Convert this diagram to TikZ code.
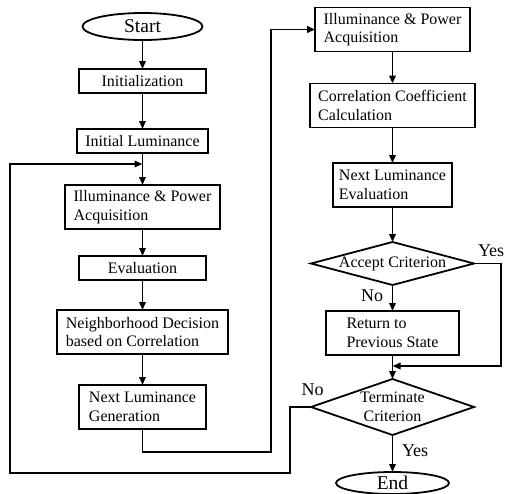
\documentclass[tikz,border=0pt]{standalone}
\usepackage{fontspec}
\setmainfont{Liberation Serif}
\usetikzlibrary{positioning,arrows.meta,calc,shapes.geometric}
\newcommand{\bodysize}{\fontsize{16}{18.5}\selectfont}
\tikzset{
  fig/.style={font=\bodysize,line width=1.8pt},
  box/.style={draw,line width=1.8pt,minimum height=24pt,minimum width=127pt,align=left,
              inner xsep=8.5pt,inner ysep=2pt,outer sep=0pt},
  tallbox/.style={box,minimum height=44pt},
  terminal/.style={draw,ellipse,line width=1.8pt,minimum height=27pt,inner sep=0pt,
                   outer sep=0pt,font=\fontsize{19.5}{22}\selectfont},
  decision/.style={draw,diamond,line width=1.8pt,inner sep=0pt,outer sep=0pt,align=center},
  ln/.style={-{Triangle[length=8pt,width=6.5pt]},line width=1.8pt},
  lbl/.style={font=\fontsize{18}{20}\selectfont,inner sep=1pt,outer sep=0pt},
}

\begin{document}
\begin{tikzpicture}[fig]
\useasboundingbox (0,0) rectangle (506pt,-493pt);

% left column
\node[terminal,minimum width=120pt] (start) at (142.5pt,-26.5pt) {Start};
\node[box,below=29pt of start] (init) {Initialization};
\node[box,below=36pt of init] (lum) {Initial Luminance};
\node[tallbox,below=32pt of lum] (acqL) {Illuminance \& Power\\Acquisition};
\node[box,below=27pt of acqL] (eval) {Evaluation};
\node[tallbox,below=30pt of eval] (nbr) {Neighborhood Decision\\based on Correlation};
\node[tallbox,below=31pt of nbr] (gen) {Next Luminance\\Generation};

% right column
\node[tallbox] (acqR) at (392.5pt,-29.5pt) {Illuminance \& Power\\Acquisition};
\node[tallbox,below=32pt of acqR] (corr) {Correlation Coefficient\\Calculation};
\node[tallbox,below=35.5pt of corr,minimum width=119pt,inner xsep=6pt] (nle) {Next Luminance\\Evaluation};
\node[decision,below=35pt of nle,aspect=3.8,minimum width=163pt,minimum height=43pt] (acc) {Accept Criterion};
\node[tallbox,below=26pt of acc,minimum width=133pt] (ret) {Return to\\Previous State};
\node[decision,below=24pt of ret,aspect=2.9,minimum width=163pt,minimum height=56pt] (stop) {Terminate\\Criterion};
\node[terminal,below=37pt of stop,minimum width=113pt,minimum height=22pt] (finish) {End};

% bends of the loops
\coordinate[below=11pt of lum] (entry);
\coordinate[below=11pt of ret] (merge);
\coordinate (jog) at (271pt,-452pt);
\coordinate (back) at (290pt,-473pt);
\coordinate (corner) at (10pt,-473pt);
\coordinate (skip) at ($(merge)+(108.5pt,0)$);

\foreach \a/\b in {start/init,init/lum,lum/acqL,acqL/eval,eval/nbr,nbr/gen,
                   acqR/corr,corr/nle,nle/acc,acc/ret,ret/stop,stop/finish}
  \draw[ln] (\a) -- (\b);
\draw[ln] (gen.south) |- (jog) |- (acqR.west);
\draw[ln] (acc.east) -| (skip) -- (merge);
\draw[ln] (stop.west) -| (back) -- (corner) |- (entry);

\node[lbl,above right=6pt and 3pt of acc.east] (yesAcc) {Yes};
\node[lbl,below left=4pt and 8.5pt of acc.south] (noAcc) {No};
\node[lbl,above=10pt of stop.west,xshift=1.5pt] (noStop) {No};
\node[lbl,below right=9pt and 8.5pt of stop.south] (yesStop) {Yes};

\end{tikzpicture}
\end{document}
